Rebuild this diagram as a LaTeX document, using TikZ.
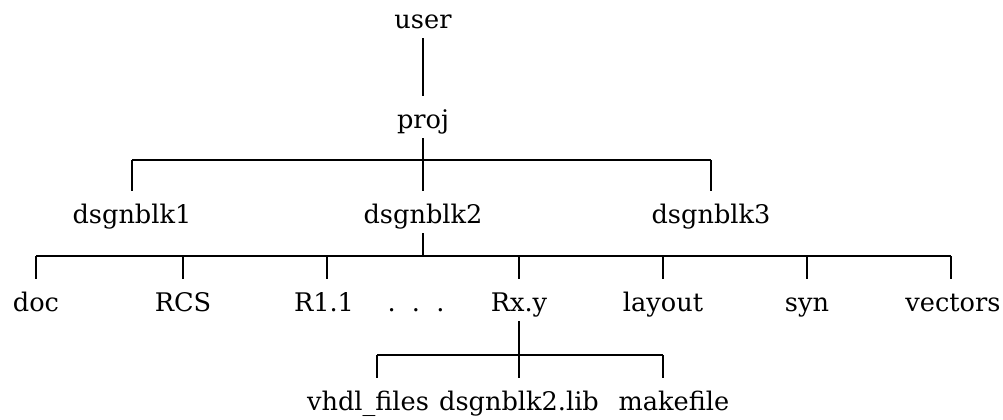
\documentclass[tikz,border=0pt]{standalone}
\usepackage{fontspec}
\setmainfont{DejaVu Serif}
\begin{document}
\begin{tikzpicture}[x=0.5pt,y=-0.5pt]
  \tikzset{dir/.style={font=\fontsize{12.8}{15}\selectfont, anchor=base, inner ysep=4pt, text height=12pt, text depth=1pt},
           link/.style={line width=1pt}}
  \useasboundingbox (0,0) rectangle (1003,419);

	%top
  \node[dir] (user) at (423,28) {user};
  \node[dir] (proj) at (423,128) {proj};
  \draw[link] (user.south) -- (proj.north);

	%blocks
  \coordinate (bar1) at (0,160);
    \foreach \x/\num/\name in {132/1/d1, 423/2/d2, 711/3/d3}{
         \node[dir] (\name) at (\x,223) {dsgnblk\num};
         \draw[link] (\name.north |- bar1) -- (\name.north);
    }
  \draw[link] (d1.north |- bar1) -- (d3.north |- bar1);
  \draw[link] (proj.south) -- (proj.south |- bar1);

	%dsgnblk2
  \coordinate (bar2) at (0,256);
    \foreach \x/\dx/\num/\name in {36/36/doc/doc, 183/183/RCS/rcs, 324/327/R1.1/r11, 519/519/Rx.y/rxy, 663/663/layout/layout, 807/807/syn/syn, 953/951/vectors/vectors}{
         \node[dir] (\name) at (\x,311) {\num};
         \draw[link] (bar2 -| \dx,0) -- (\name.north -| \dx,0);
    }
  \node[dir] (dots) at (416,311) {.\ \ .\ \ .};
  \draw[link] (bar2 -| doc.north) -- (bar2 -| 951,0);
  \draw[link] (d2.south) -- (d2.south |- bar2);

	%Rx.y
  \coordinate (bar3) at (0,355);
    \foreach \x/\dx/\num/\name in {368/377/vhdl\_files/vhdl, 519/519/dsgnblk2.lib/lib, 674/663/makefile/make}{
         \node[dir] (\name) at (\x,410) {\num};
         \draw[link] (bar3 -| \dx,0) -- (\name.north -| \dx,0);
    }
  \draw[link] (bar3 -| 377,0) -- (bar3 -| 663,0);
  \draw[link] (rxy.south) -- (rxy.south |- bar3);

\end{tikzpicture}
\end{document}
